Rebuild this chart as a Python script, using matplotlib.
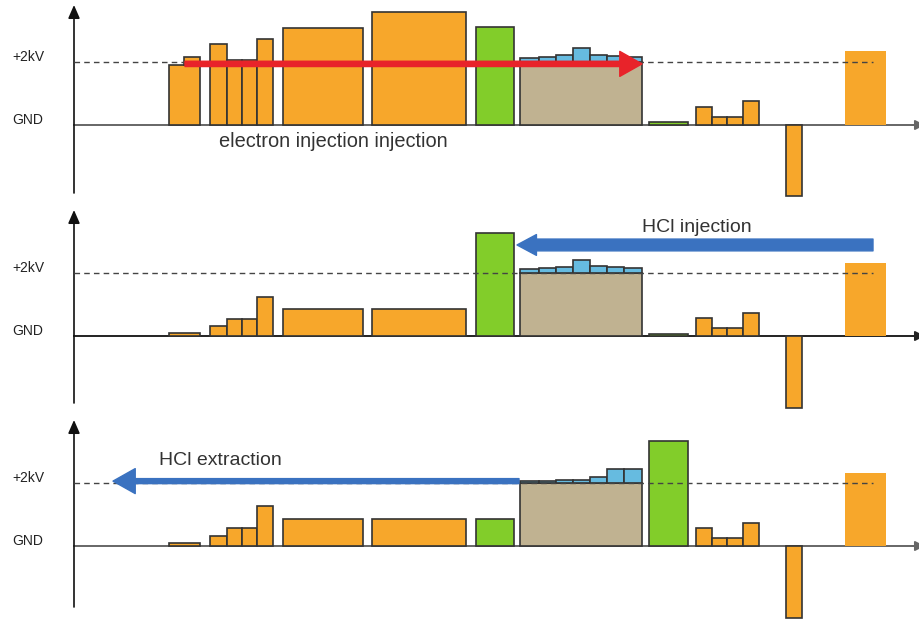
import numpy as np
import matplotlib
matplotlib.use("Agg")
import matplotlib.pyplot as plt

plt.rcParams['font.family'] = ['Liberation Sans', 'DejaVu Sans']

# Electrode positions along the beamline (left / right edges)
elec_left = [169, 210, 227, 242, 257, 283, 372, 476, 520, 649, 696, 712, 727, 743, 786, 845]
elec_right = [200, 227, 242, 257, 273, 363, 466, 514, 642, 688, 712, 727, 743, 759, 802, 886]
elec_kind = ['o', 'o', 'o', 'o', 'o', 'o', 'o', 'g', 't', 'g', 'o', 'o', 'o', 'o', 'o', 'p']

# Electrode potentials (kV) in the three phases
v_electron = [1.90, 2.57, 2.06, 2.06, 2.73, 3.08, 3.59, 3.11, 2.0, 0.08, 0.57, 0.24, 0.24, 0.75, -2.25, 2.35]
v_hci_inj = [0.10, 0.31, 0.55, 0.55, 1.25, 0.85, 0.87, 3.28, 2.0, 0.07, 0.56, 0.24, 0.24, 0.72, -2.27, 2.32]
v_hci_ext = [0.10, 0.31, 0.56, 0.56, 1.26, 0.85, 0.87, 0.85, 2.0, 3.33, 0.57, 0.24, 0.24, 0.73, -2.27, 2.32]

# Trap drift tube segments sitting on top of the +2kV platform
seg_edges = [520, 539, 556, 573, 590, 607, 624, 642]
trap_electron = [0.14, 0.17, 0.21, 0.43, 0.23, 0.18, 0.15]
trap_inj = [0.12, 0.15, 0.19, 0.42, 0.21, 0.18, 0.15]
trap_ext = [0.06, 0.05, 0.08, 0.11, 0.20, 0.43, 0.43]

colors = {'o': '#f7a72b', 'g': '#82cd2a', 't': '#c0b291', 'p': '#f7a72b'}
edge = '#333333'
px_per_kv = 31.5

fig = plt.figure(figsize=(9.19, 6.19), dpi=100)

panels = [
    # (top px, bottom px, GND px, volts, trap, axis colour)
    (0, 205, 125, v_electron, trap_electron, '#666666'),
    (205, 415, 336, v_hci_inj, trap_inj, '#222222'),
    (415, 619, 546, v_hci_ext, trap_ext, '#666666'),
]

axes = []
for top, bot, gnd, volts, trap, gcol in panels:
    ax = fig.add_axes([0, 1 - bot / 619, 1, (bot - top) / 619])
    ax.set_xlim(0, 919)
    ax.set_ylim(-(bot - gnd) / px_per_kv, (gnd - top) / px_per_kv)
    ax.axis('off')

    left = np.array(elec_left)
    width = np.array(elec_right) - left
    for x, w, v, k in zip(left, width, volts, elec_kind):
        if k == 'p':
            ax.bar(x, v, w, align='edge', color=colors[k], lw=0, zorder=2)
        else:
            ax.bar(x, v, w, align='edge', color=colors[k], edgecolor=edge, lw=1.2, zorder=2)

    sl = np.array(seg_edges[:-1])
    sw = np.diff(seg_edges)
    ax.bar(sl, trap, sw, bottom=2.0, align='edge', color='#66bbe0', edgecolor=edge, lw=1.2, zorder=3)

    # ground line, +2kV reference, vertical axis
    ax.plot([74, 919], [0, 0], color=gcol, lw=1.4, zorder=1)
    ax.annotate('', xy=(925, 0), xytext=(912, 0), annotation_clip=False,
                arrowprops=dict(arrowstyle='-|>,head_length=0.6,head_width=0.3',
                                color=gcol, lw=1.2, mutation_scale=10, shrinkA=0, shrinkB=0))
    ax.plot([74, 873], [2, 2], color='#444444', lw=1.0, ls=(0, (4, 3)), zorder=4)
    ybot = -(bot - gnd - 12) / px_per_kv
    ytop = (gnd - top - 5) / px_per_kv
    ax.annotate('', xy=(74, ytop), xytext=(74, ybot),
                arrowprops=dict(arrowstyle='-|>,head_length=0.8,head_width=0.35',
                                color='#111111', lw=1.2, mutation_scale=10, shrinkA=0, shrinkB=0))
    ax.text(12, 2.15, '+2kV', fontsize=10, color='#222222', va='center', ha='left')
    ax.text(12, 0.17, 'GND', fontsize=10, color='#222222', va='center', ha='left')
    axes.append(ax)

ax1, ax2, ax3 = axes

# extra step on the first electrode during electron injection
ax1.bar(184, 0.26, 16, bottom=1.90, align='edge', color=colors['o'], edgecolor=edge, lw=1.2, zorder=2)

ax1.annotate('', xy=(642, 1.94), xytext=(185, 1.94),
             arrowprops=dict(arrowstyle='simple,head_length=1.6,head_width=1.8,tail_width=0.38',
                             color='#e8232a', mutation_scale=10, shrinkA=0, shrinkB=0), zorder=5)
ax1.text(219, -0.51, 'electron injection injection', fontsize=14.4, color='#333333',
         ha='left', va='center')

ax2.annotate('', xy=(517, 2.89), xytext=(873, 2.89),
             arrowprops=dict(arrowstyle='simple,head_length=1.4,head_width=1.5,tail_width=0.85',
                             color='#3a72c0', mutation_scale=10, shrinkA=0, shrinkB=0), zorder=5)
ax2.text(642, 3.46, 'HCl injection', fontsize=14, color='#333333', ha='left', va='center')

ax3.annotate('', xy=(113, 2.06), xytext=(519, 2.06),
             arrowprops=dict(arrowstyle='simple,head_length=1.6,head_width=1.8,tail_width=0.36',
                             color='#3a72c0', mutation_scale=10, shrinkA=0, shrinkB=0), zorder=5)
ax3.text(159, 2.7, 'HCl extraction', fontsize=14, color='#333333', ha='left', va='center')

fig.savefig('out.png', dpi=100)
